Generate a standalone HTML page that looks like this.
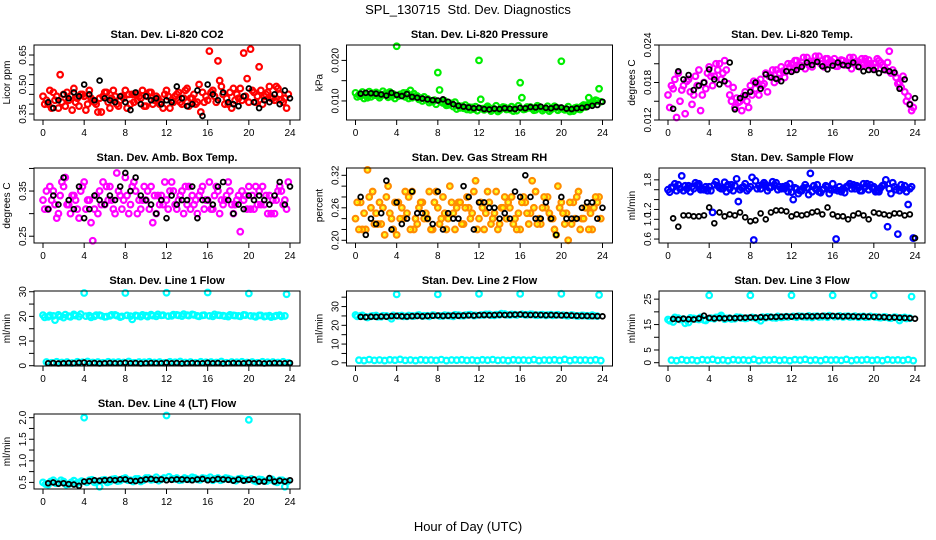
<!DOCTYPE html>
<html><head><meta charset="utf-8"><style>
html,body{margin:0;padding:0;background:#fff;}
svg{display:block;font-family:"Liberation Sans",sans-serif;}
</style></head><body>
<svg id="chart" width="936" height="540" viewBox="0 0 936 540" xmlns="http://www.w3.org/2000/svg">
<rect x="0" y="0" width="936" height="540" fill="#fff"/>
<text x="468" y="14" text-anchor="middle" font-size="13">SPL_130715&#160;&#160;Std. Dev. Diagnostics</text>
<text x="468" y="531" text-anchor="middle" font-size="13">Hour of Day (UTC)</text>
</svg>
<script>
// ---- data ----
const co2A=[0.44,0.40,0.46,0.38,0.45,0.42,0.48,0.39,0.44,0.47,0.41,0.43,0.46,0.38,0.44,0.42,0.47,0.40,0.45,0.43,0.39,0.46,0.44,0.41,0.47,0.42,0.45,0.40,0.48,0.43,0.41,0.46,0.42,0.47,0.62,0.45,0.40,0.48,0.43,0.66,0.41,0.46,0.59,0.44,0.49,0.42,0.45,0.43];
const co2B=[0.40,0.47,0.42,0.55,0.39,0.44,0.41,0.45,0.37,0.43,0.40,0.36,0.46,0.43,0.40,0.44,0.38,0.45,0.42,0.47,0.44,0.40,0.43,0.38,0.44,0.41,0.46,0.43,0.39,0.45,0.50,0.41,0.67,0.44,0.52,0.40,0.46,0.42,0.48,0.44,0.68,0.41,0.47,0.45,0.43,0.49,0.42,0.38];
const co2C=[0.42,0.38,0.44,0.41,0.46,0.37,0.43,0.45,0.40,0.42,0.36,0.44,0.41,0.47,0.39,0.43,0.45,0.41,0.44,0.39,0.46,0.42,0.40,0.45,0.38,0.44,0.41,0.47,0.43,0.40,0.36,0.44,0.46,0.41,0.49,0.43,0.38,0.45,0.42,0.53,0.47,0.44,0.40,0.46,0.43,0.48,0.41,0.45];
const co2K=[0.41,0.38,0.42,0.45,0.43,0.46,0.44,0.50,0.45,0.42,0.52,0.43,0.42,0.41,0.44,0.41,0.37,0.46,0.40,0.44,0.42,0.43,0.40,0.42,0.41,0.49,0.43,0.39,0.40,0.47,0.34,0.50,0.45,0.42,0.46,0.41,0.40,0.39,0.44,0.48,0.41,0.38,0.42,0.41,0.45,0.40,0.47,0.43];

const presA=[.0120,.0112,.0118,.0110,.0121,.0113,.0119,.0111,.0235,.0114,.0120,.0108,.0112,.0100,.0105,.0098,.0170,.0095,.0090,.0086,.0088,.0082,.0085,.0080,.0200,.0078,.0083,.0080,.0077,.0084,.0079,.0082,.0145,.0080,.0085,.0078,.0083,.0081,.0079,.0084,.0198,.0080,.0078,.0084,.0087,.0090,.0095,.0100];
const presB=[.0110,.0122,.0108,.0119,.0113,.0124,.0109,.0117,.0112,.0120,.0106,.0118,.0104,.0110,.0096,.0102,.0127,.0100,.0092,.0097,.0083,.0090,.0078,.0086,.0104,.0083,.0075,.0088,.0082,.0079,.0086,.0076,.0108,.0085,.0081,.0088,.0076,.0087,.0083,.0077,.0080,.0086,.0075,.0080,.0090,.0108,.0096,.0130];
const presC=[.0115,.0106,.0123,.0114,.0108,.0117,.0122,.0106,.0116,.0110,.0126,.0112,.0107,.0103,.0100,.0092,.0098,.0089,.0094,.0080,.0087,.0079,.0084,.0076,.0081,.0087,.0079,.0074,.0085,.0081,.0075,.0088,.0079,.0083,.0077,.0086,.0080,.0075,.0087,.0082,.0078,.0074,.0083,.0079,.0085,.0093,.0102,.0098];
const presK=[.0118,.0120,.0119,.0118,.0116,.0113,.0120,.0115,.0112,.0117,.0110,.0108,.0106,.0104,.0102,.0101,.0104,.0098,.0092,.0088,.0086,.0084,.0082,.0083,.0080,.0079,.0081,.0080,.0082,.0081,.0080,.0083,.0082,.0085,.0084,.0086,.0083,.0082,.0085,.0084,.0081,.0080,.0082,.0083,.0085,.0088,.0090,.0098];

const tempA=[.0160,.0170,.0195,.0175,.0185,.0160,.0200,.0180,.0205,.0190,.0210,.0215,.0160,.0140,.0150,.0165,.0175,.0170,.0185,.0195,.0190,.0200,.0205,.0198,.0210,.0215,.0212,.0220,.0205,.0215,.0210,.0218,.0212,.0206,.0215,.0210,.0220,.0213,.0208,.0216,.0210,.0215,.0205,.0230,.0195,.0180,.0165,.0145];
const tempB=[.0140,.0185,.0150,.0130,.0165,.0190,.0135,.0170,.0190,.0210,.0185,.0200,.0150,.0155,.0135,.0150,.0160,.0180,.0175,.0165,.0200,.0185,.0198,.0210,.0200,.0205,.0220,.0208,.0214,.0222,.0205,.0212,.0218,.0210,.0208,.0220,.0212,.0205,.0218,.0210,.0204,.0212,.0200,.0195,.0188,.0172,.0150,.0135];
const tempC=[.0175,.0124,.0168,.0182,.0145,.0175,.0160,.0195,.0175,.0200,.0195,.0178,.0172,.0148,.0158,.0140,.0182,.0160,.0178,.0190,.0180,.0195,.0188,.0205,.0215,.0208,.0202,.0214,.0222,.0210,.0218,.0214,.0206,.0216,.0212,.0202,.0214,.0218,.0210,.0203,.0218,.0208,.0212,.0200,.0178,.0190,.0158,.0140];
const tempK=[.0138,.0198,.0185,.0192,.0168,.0175,.0180,.0201,.0185,.0177,.0182,.0212,.0137,.0155,.0160,.0165,.0180,.0170,.0193,.0188,.0186,.0182,.0198,.0197,.0200,.0205,.0212,.0208,.0213,.0206,.0201,.0207,.0212,.0208,.0207,.0212,.0205,.0198,.0200,.0200,.0195,.0200,.0198,.0196,.0170,.0185,.0145,.0155];

const boxA=[.33,.31,.35,.30,.36,.32,.34,.29,.37,.33,.31,.35,.32,.36,.30,.34,.38,.32,.35,.31,.33,.36,.30,.34,.33,.37,.31,.35,.32,.34,.30,.36,.33,.31,.35,.32,.37,.30,.34,.33,.36,.31,.35,.32,.34,.30,.36,.33];
const boxB=[.31,.36,.32,.34,.38,.30,.33,.35,.31,.28,.34,.32,.36,.33,.39,.31,.34,.36,.30,.33,.35,.28,.34,.32,.31,.35,.33,.30,.36,.32,.34,.31,.37,.34,.30,.33,.35,.32,.26,.34,.31,.36,.32,.34,.30,.33,.35,.31];
const boxC=[.35,.33,.29,.37,.32,.34,.31,.36,.33,.24,.30,.37,.33,.31,.35,.33,.30,.37,.33,.36,.31,.34,.32,.37,.35,.32,.34,.36,.31,.33,.35,.33,.31,.36,.33,.34,.32,.33,.35,.31,.34,.32,.36,.30,.33,.35,.32,.37];
const boxK=[.31,.34,.32,.38,.33,.31,.36,.29,.31,.34,.33,.32,.34,.33,.36,.39,.35,.38,.34,.33,.32,.30,.33,.29,.34,.32,.33,.33,.36,.29,.33,.33,.32,.36,.37,.33,.30,.32,.31,.34,.33,.34,.33,.32,.34,.37,.32,.36];

const rhA=[.24,.27,.22,.26,.25,.23,.28,.24,.21,.26,.25,.29,.23,.27,.24,.22,.26,.28,.24,.25,.27,.23,.26,.29,.24,.22,.27,.25,.23,.28,.26,.24,.22,.27,.25,.29,.23,.26,.24,.21,.27,.25,.23,.28,.24,.26,.22,.27];
const rhB=[.27,.22,.33,.29,.23,.26,.30,.22,.27,.24,.28,.22,.26,.24,.29,.27,.23,.25,.30,.22,.27,.26,.24,.31,.27,.25,.23,.29,.26,.24,.28,.22,.27,.25,.31,.23,.26,.28,.24,.30,.25,.20,.27,.29,.24,.22,.26,.28];
const rhC=[.22,.25,.28,.23,.27,.21,.25,.27,.24,.29,.22,.24,.27,.25,.22,.29,.24,.22,.27,.26,.23,.28,.25,.22,.26,.29,.24,.22,.26,.27,.23,.25,.28,.23,.26,.24,.28,.25,.22,.26,.23,.27,.24,.22,.26,.25,.28,.24];
const rhK=[.28,.21,.24,.23,.25,.31,.22,.27,.23,.24,.29,.25,.25,.24,.23,.29,.22,.25,.24,.24,.30,.28,.22,.27,.27,.26,.26,.24,.25,.24,.29,.28,.32,.28,.24,.24,.27,.24,.21,.28,.24,.24,.24,.26,.27,.27,.24,.26];

const flowA=[1.60,1.65,1.70,1.58,1.68,1.62,1.72,1.60,1.66,1.70,1.64,1.75,1.62,1.68,1.60,1.72,1.66,1.78,1.62,1.70,1.65,1.74,1.62,1.68,1.55,1.62,1.58,1.64,1.56,1.70,1.60,1.66,1.72,1.58,1.62,1.68,1.70,1.64,1.72,1.60,1.66,1.56,1.70,1.62,1.66,1.58,1.68,1.62];
const flowB=[1.55,1.72,1.62,1.68,1.56,1.74,1.60,1.66,1.58,1.76,1.62,1.56,1.70,1.82,1.64,1.58,1.85,1.62,1.70,1.58,1.76,1.60,1.66,1.56,1.40,1.52,1.64,1.50,1.68,1.56,1.62,1.52,1.60,1.66,1.54,1.72,1.62,1.58,1.66,1.70,1.56,1.64,1.80,1.52,1.60,1.70,1.56,1.66];
const flowC=[1.65,1.58,1.88,1.62,1.66,1.70,1.62,1.58,1.14,1.68,1.62,1.70,1.58,1.36,1.66,1.62,0.58,1.68,1.74,1.64,1.70,1.66,1.62,1.72,1.64,1.58,1.70,1.93,1.62,1.54,1.68,1.60,0.60,1.56,1.66,1.62,1.68,1.58,1.72,1.64,1.58,1.68,0.85,1.74,0.70,1.62,1.30,0.62];
const flowK=[1.02,0.85,1.08,1.08,1.06,1.06,1.08,1.24,0.92,1.14,1.06,1.10,1.08,1.14,1.04,0.96,0.98,1.12,1.00,1.14,1.18,1.18,1.16,1.06,1.10,1.08,1.10,1.14,1.16,1.10,1.24,1.10,1.06,1.06,1.00,1.08,1.12,1.08,1.00,1.14,1.12,1.10,1.08,1.12,1.12,1.08,1.10,0.62];

const l1A=[20.5,19.8,20.2,20.6,19.5,20.1,20.8,19.9,29.5,20.3,20.0,20.5,19.8,20.2,20.6,19.7,29.5,20.1,20.4,19.9,20.3,20.7,20.0,20.4,29.6,20.2,20.6,20.1,20.5,20.8,20.2,20.4,29.7,20.0,20.5,20.3,19.9,20.4,20.2,20.6,29.3,20.1,20.4,19.9,20.3,20.0,20.5,20.2];
const l1B=[19.6,20.4,18.5,20.0,20.7,19.8,20.3,20.9,20.1,19.6,20.5,20.2,19.9,20.6,20.3,20.0,20.4,18.8,20.2,20.6,19.9,20.3,20.8,20.5,20.1,20.7,20.4,20.9,20.3,20.6,20.0,20.5,20.2,20.8,20.4,20.1,20.6,20.3,20.0,20.5,20.2,19.8,20.4,20.1,19.7,20.3,20.0,29.0];
const l1C=[1.5,1.2,1.6,1.3,1.5,1.1,1.6,1.4,1.7,1.3,1.5,1.2,1.6,1.4,1.5,1.3,1.7,1.2,1.5,1.4,1.6,1.3,1.5,1.2,1.6,1.4,1.7,1.3,1.5,1.2,1.6,1.4,1.5,1.3,1.7,1.2,1.5,1.4,1.6,1.3,1.5,1.2,1.6,1.4,1.5,1.3,1.6,1.2];
const l1K=[1.0,1.1,0.9,1.0,1.1,1.0,1.2,1.3,1.0,1.1,0.9,1.0,1.1,1.0,1.0,1.2,1.0,1.1,0.9,1.0,1.1,1.0,1.0,1.2,1.0,1.1,0.9,1.0,1.1,1.0,1.0,1.2,1.0,1.1,0.9,1.0,1.1,1.0,1.0,1.2,1.0,1.1,0.9,1.0,1.1,1.0,1.0,1.1];

const l2A=[25.5,25.0,24.5,24.8,25.2,24.6,25.0,23.5,36.5,25.2,24.8,25.0,25.3,24.9,25.1,25.4,36.5,25.0,25.2,24.8,25.4,25.1,25.6,25.2,36.8,25.5,25.8,25.3,25.6,26.0,25.5,25.7,36.8,25.6,25.9,25.4,25.6,25.3,25.7,25.5,36.8,25.2,25.5,25.0,25.3,25.1,25.4,24.9];
const l2B=[24.8,25.3,24.2,25.0,24.6,25.1,24.7,25.3,25.0,24.8,25.2,24.9,25.5,25.1,24.8,25.3,25.0,25.4,25.1,25.6,25.2,25.4,25.7,25.3,25.5,25.8,25.4,25.7,26.2,25.6,25.8,25.5,25.9,25.6,25.8,25.4,25.7,25.5,25.3,25.6,25.4,25.1,25.3,25.0,25.2,24.9,25.1,36.2];
const l2C=[1.4,1.2,1.7,1.3,1.5,1.2,1.6,1.4,1.8,1.3,1.5,1.2,1.6,1.4,1.5,1.3,1.7,1.2,1.5,1.4,1.6,1.3,1.5,1.2,1.6,1.4,1.7,1.3,1.5,1.2,1.6,1.4,1.5,1.3,1.7,1.2,1.5,1.4,1.6,1.3,1.8,1.2,1.6,1.4,1.5,1.3,1.6,1.2];
const l2K=[24.5,24.4,24.6,24.5,24.7,24.6,24.9,25.0,24.8,24.7,24.9,25.0,24.8,25.0,25.1,25.2,25.0,25.1,25.2,25.1,25.2,25.3,25.2,25.4,25.5,25.4,25.5,25.6,25.5,25.6,25.7,25.8,25.6,25.5,25.6,25.5,25.4,25.5,25.4,25.3,25.4,25.2,25.1,25.0,25.0,24.9,24.9,24.8];

const l3A=[17.0,16.0,17.5,17.2,15.8,17.4,17.0,16.8,26.5,17.3,18.0,17.1,17.5,17.3,17.8,17.4,26.5,17.6,16.5,17.7,17.9,17.6,17.8,18.1,26.5,17.9,18.2,18.0,17.8,18.3,18.1,17.9,26.5,18.2,18.0,18.3,18.1,17.9,18.2,18.0,26.5,17.8,18.0,17.6,17.9,16.6,17.8,17.5];
const l3B=[16.5,17.8,17.0,15.5,17.6,17.2,17.8,16.6,17.5,17.8,18.6,17.4,17.2,17.9,17.6,17.5,17.8,17.3,17.9,18.0,17.7,18.2,17.9,18.0,18.2,18.3,18.1,18.4,18.2,18.0,18.3,18.5,18.1,18.4,18.2,18.0,18.3,18.1,17.9,18.2,18.0,17.7,17.9,17.5,17.8,17.6,17.4,26.0];
const l3C=[1.0,0.8,1.2,0.9,1.1,0.8,1.2,1.0,1.3,0.9,1.1,0.8,1.2,1.0,1.1,0.9,1.3,0.8,1.1,1.0,1.2,0.9,1.1,0.8,1.2,1.0,1.3,0.9,1.1,0.8,1.2,1.0,1.1,0.9,1.3,0.8,1.1,1.0,1.2,0.9,1.1,0.8,1.2,1.0,1.1,0.9,1.2,0.8];
const l3K=[17.2,17.0,17.3,17.1,17.0,17.4,18.5,17.6,17.4,17.5,17.4,17.6,17.5,17.6,17.7,17.8,17.7,17.9,17.8,18.0,18.0,18.1,18.2,18.1,18.3,18.2,18.3,18.2,18.3,18.4,18.3,18.4,18.3,18.2,18.3,18.2,18.1,18.2,18.1,18.0,18.0,17.9,17.8,17.8,17.7,17.6,17.5,17.3];

const l4A=[0.50,0.45,0.55,0.48,0.52,0.46,0.54,0.50,2.00,0.55,0.50,0.40,0.56,0.52,0.58,0.54,0.60,0.55,0.58,0.52,0.60,0.56,0.62,0.57,2.05,0.58,0.60,0.56,0.58,0.62,0.57,0.60,0.58,0.55,0.60,0.57,0.59,0.55,0.58,0.56,1.95,0.54,0.57,0.53,0.56,0.52,0.55,0.40];
const l4B=[0.46,0.52,0.48,0.55,0.45,0.50,0.47,0.53,0.50,0.56,0.52,0.55,0.50,0.57,0.53,0.58,0.55,0.52,0.58,0.55,0.60,0.57,0.54,0.60,0.63,0.58,0.55,0.60,0.57,0.60,0.56,0.59,0.62,0.58,0.55,0.60,0.57,0.54,0.59,0.56,0.58,0.52,0.56,0.53,0.57,0.50,0.55,0.52];
const l4K=[0.48,0.50,0.47,0.48,0.46,0.45,0.42,0.52,0.53,0.55,0.54,0.55,0.56,0.55,0.57,0.57,0.54,0.53,0.55,0.57,0.58,0.56,0.57,0.55,0.56,0.57,0.57,0.56,0.55,0.57,0.58,0.55,0.56,0.58,0.57,0.56,0.54,0.57,0.54,0.56,0.57,0.52,0.52,0.60,0.52,0.54,0.52,0.55];

const xTickVals=[0,4,8,12,16,20,24];

// ---- layout / rendering ----
const NS="http://www.w3.org/2000/svg";
const svg=document.getElementById('chart');
const colL=[34,346.5,659], rowT=[45,168,291,414], BW=266, BH=75;
const panels=[
 {name:'co2',title:'Stan. Dev. Li-820 CO2',ylab:'Licor ppm',c:0,r:0,ylim:[0.3195,0.701],ticks:[0.35,0.40,0.45,0.50,0.55,0.60,0.65],labels:[0.35,0.50,0.65],dec:2,col:'#ff0000',series:[co2A,co2B,co2C],black:co2K},
 {name:'pressure',title:'Stan. Dev. Li-820 Pressure',ylab:'kPa',c:1,r:0,ylim:[0.0053,0.0238],ticks:[0.010,0.015,0.020],labels:[0.010,0.020],dec:3,col:'#00ee00',series:[presA,presB,presC],black:presK},
 {name:'temp',title:'Stan. Dev. Li-820 Temp.',ylab:'degrees C',c:2,r:0,ylim:[0.012,0.024],ticks:[0.012,0.015,0.018,0.021,0.024],labels:[0.012,0.018,0.024],dec:3,col:'#ff00ff',series:[tempA,tempB,tempC],black:tempK},
 {name:'box-temp',title:'Stan. Dev. Amb. Box Temp.',ylab:'degrees C',c:0,r:1,ylim:[0.235,0.401],ticks:[0.25,0.30,0.35,0.40],labels:[0.25,0.35],dec:2,col:'#ff00ff',series:[boxA,boxB,boxC],black:boxK},
 {name:'rh',title:'Stan. Dev. Gas Stream RH',ylab:'percent',c:1,r:1,ylim:[0.195,0.3335],ticks:[0.20,0.22,0.24,0.26,0.28,0.30,0.32],labels:[0.20,0.26,0.32],dec:2,col:'#ff8c00',inner:'#ffff00',series:[rhA,rhB,rhC],black:rhK},
 {name:'sample-flow',title:'Stan. Dev. Sample Flow',ylab:'ml/min',c:2,r:1,ylim:[0.52,2.04],ticks:[0.6,0.8,1.0,1.2,1.4,1.6,1.8],labels:[0.6,1.0,1.2,1.8],dec:1,col:'#0000ff',series:[flowA,flowB,flowC],black:flowK},
 {name:'line1-flow',title:'Stan. Dev. Line 1 Flow',ylab:'ml/min',c:0,r:2,ylim:[-0.12,30.3],ticks:[0,5,10,15,20,25,30],labels:[0,10,20,30],dec:0,col:'#00ffff',series:[l1A,l1B,l1C],black:l1K},
 {name:'line2-flow',title:'Stan. Dev. Line 2 Flow',ylab:'ml/min',c:1,r:2,ylim:[-1.7,38.3],ticks:[0,5,10,15,20,25,30,35],labels:[0,10,20,30],dec:0,col:'#00ffff',series:[l2A,l2B,l2C],black:l2K},
 {name:'line3-flow',title:'Stan. Dev. Line 3 Flow',ylab:'ml/min',c:2,r:2,ylim:[-1.3,28.2],ticks:[0,5,10,15,20,25],labels:[0,5,15,25],dec:0,col:'#00ffff',series:[l3A,l3B,l3C],black:l3K},
 {name:'line4-flow',title:'Stan. Dev. Line 4 (LT) Flow',ylab:'ml/min',c:0,r:3,ylim:[0.347,2.085],ticks:[0.5,0.75,1.0,1.25,1.5,1.75,2.0],labels:[0.5,1.0,1.5,2.0],dec:1,col:'#00ffff',series:[l4A,l4B],black:l4K}
];
function mk(tag,attrs,parent){const e=document.createElementNS(NS,tag);for(const k in attrs)e.setAttribute(k,attrs[k]);(parent||svg).appendChild(e);return e;}
panels.forEach(p=>{
  const L=colL[p.c],T=rowT[p.r],B=T+BH,R=L+BW;
  const g=mk('g',{});
  
  
  const xs=t=>L+9+t*247/24;
  const ys=v=>B-(v-p.ylim[0])/(p.ylim[1]-p.ylim[0])*BH;
  const tt=mk('text',{x:(L+R)/2,y:T-7,'text-anchor':'middle','font-size':'11','font-weight':'bold'},g);
  tt.textContent=p.title;
  
  
  const yl=mk('text',{transform:`translate(${L-24},${(T+B)/2}) rotate(-90)`,'text-anchor':'middle','font-size':'10'},g);
  yl.textContent=p.ylab;
  
  
  const xa=mk('g',{},g);
  
  
  mk('line',{x1:xs(0),x2:xs(24),y1:B,y2:B,stroke:'#000'},xa);
  xTickVals.forEach(v=>{
    mk('line',{x1:xs(v),x2:xs(v),y1:B,y2:B+5,stroke:'#000'},xa);
    const t=mk('text',{x:xs(v),y:B+16,'text-anchor':'middle','font-size':'10'},xa);
    t.textContent=String(v);
  });
  const ya=mk('g',{},g);
  
  
  mk('line',{x1:L,x2:L,y1:ys(p.ticks[0]),y2:ys(p.ticks[p.ticks.length-1]),stroke:'#000'},ya);
  p.ticks.forEach(v=>mk('line',{x1:L-5,x2:L,y1:ys(v),y2:ys(v),stroke:'#000'},ya));
  p.labels.forEach(v=>{
    const t=mk('text',{transform:`translate(${L-8},${ys(v)}) rotate(-90)`,'text-anchor':'middle','font-size':'10'},ya);
    t.textContent=v.toFixed(p.dec);
  });
  const pts=mk('g',{fill:'none'},g);
  
  
  p.series.forEach((arr,si)=>{
    const off=si*0.5/p.series.length;
    arr.forEach((v,i)=>{
      mk('circle',{cx:xs(i*0.5+off),cy:ys(v),r:2.8,stroke:p.col,'stroke-width':2.2},pts);
      if(p.inner) mk('circle',{cx:xs(i*0.5+off),cy:ys(v),r:1,stroke:p.inner,'stroke-width':1.2},pts);
    });
  });
  const bk=mk('g',{fill:'none'},g);
  
  
  p.black.forEach((v,i)=>mk('circle',{cx:xs(0.5+i*0.5),cy:ys(v),r:2.4,stroke:'#000','stroke-width':1.8},bk));
  const box=mk('rect',{x:L,y:T,width:BW,height:BH,fill:'none',stroke:'#000'},g);
  
  
});
</script>
</body></html>
